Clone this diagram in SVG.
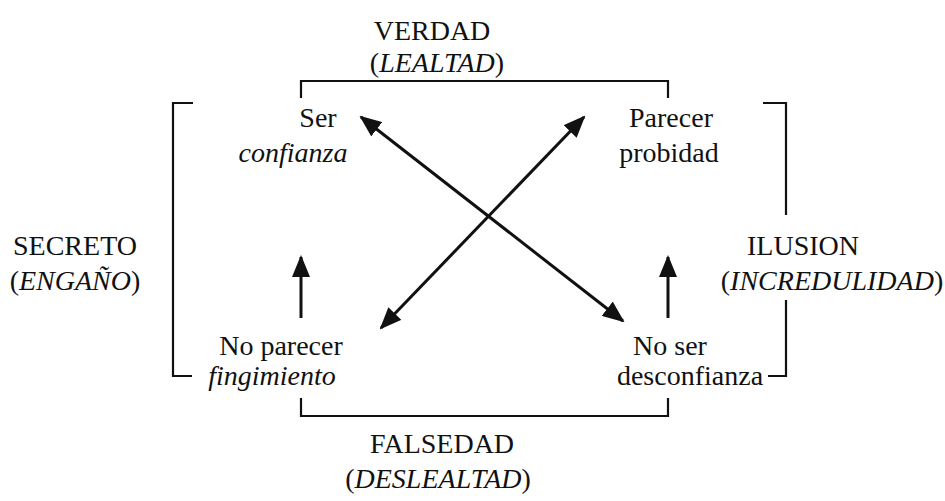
<svg xmlns="http://www.w3.org/2000/svg" width="945" height="501" viewBox="0 0 945 501">
<style>
text{font-family:"Liberation Serif","Times New Roman",serif;font-size:28px;fill:#111;text-anchor:middle}
.i{font-style:italic}
.br{fill:none;stroke:#111;stroke-width:2.2}
.ar{fill:none;stroke:#111;stroke-width:3}
</style>
<defs>
<marker id="ah" viewBox="0 0 22 18" refX="20" refY="9" markerWidth="22" markerHeight="18" markerUnits="userSpaceOnUse" orient="auto-start-reverse">
<path d="M0,0 L22,9 L0,18 Z" fill="#111"/>
</marker>
</defs>
<rect width="945" height="501" fill="#fff"/>
<g id="verdad"><text x="432" y="40">VERDAD</text><text x="437" y="72">(<tspan class="i">LEALTAD</tspan>)</text></g>
<g id="secreto"><text x="75" y="255">SECRETO</text><text x="75" y="290">(<tspan class="i">ENGAÑO</tspan>)</text></g>
<g id="ilusion"><text x="803" y="255">ILUSION</text><text x="832" y="290">(<tspan class="i">INCREDULIDAD</tspan>)</text></g>
<g id="falsedad"><text x="442" y="453">FALSEDAD</text><text x="438" y="488">(<tspan class="i">DESLEALTAD</tspan>)</text></g>
<g id="ser"><text x="318" y="127">Ser</text><text class="i" x="293" y="162">confianza</text></g>
<g id="parecer"><text x="671" y="127">Parecer</text><text x="669" y="162">probidad</text></g>
<g id="noparecer"><text x="281" y="355">No parecer</text><text class="i" x="272" y="385">fingimiento</text></g>
<g id="noser"><text x="670" y="355">No ser</text><text x="690" y="385">desconfianza</text></g>
<g id="connectors">
<path class="br" d="M301,98 V81 H668 V98"/>
<path class="br" d="M301,398 V416 H668 V398"/>
<path class="br" d="M193,103 H173 V376 H192"/>
<path class="br" d="M763,103 H786 V215 M786,300 V376 H768"/>
<line class="ar" x1="301" y1="318" x2="301" y2="257" marker-end="url(#ah)"/>
<line class="ar" x1="668" y1="318" x2="668" y2="257" marker-end="url(#ah)"/>
<line class="ar" x1="361" y1="117" x2="623" y2="321" marker-start="url(#ah)" marker-end="url(#ah)"/>
<line class="ar" x1="584" y1="117" x2="381" y2="328" marker-start="url(#ah)" marker-end="url(#ah)"/>
</g>
</svg>
